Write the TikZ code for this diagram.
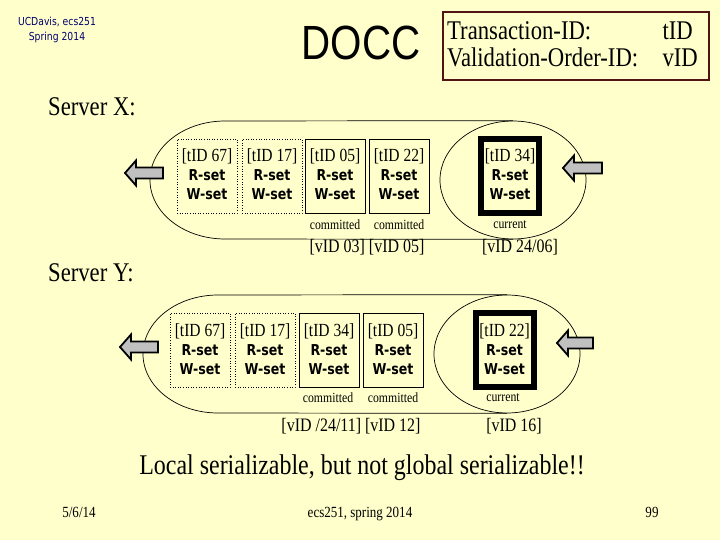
\documentclass[tikz,border=0pt]{standalone}
\usepackage{fontspec}
\setmainfont{Liberation Serif}
\newfontfamily\titlefont{Liberation Sans}
\newfontfamily\setfont{DejaVu Sans}
\usetikzlibrary{positioning,shapes.geometric}
\definecolor{slidebg}{RGB}{255,255,204}
\definecolor{framered}{RGB}{80,20,20}
\definecolor{navytext}{RGB}{0,0,110}
\definecolor{arrowgray}{RGB}{192,192,192}

\tikzset{
  txt/.style={inner sep=0pt, xscale=0.84, transform shape},
  tidtext/.style={txt, font=\fontsize{18.5}{20}\selectfont},
  settext/.style={txt, font=\setfont\bfseries\fontsize{15}{16}\selectfont},
  notetext/.style={txt, font=\fontsize{14}{16}\selectfont},
  vidtext/.style={txt, font=\fontsize{19}{20}\selectfont},
  headtext/.style={txt, font=\fontsize{27}{28}\selectfont},
  foottext/.style={txt, anchor=base, font=\fontsize{15.5}{16}\selectfont},
  tbox/.style={draw, minimum width=60pt, minimum height=74pt, inner sep=0pt},
  oldbox/.style={tbox, dotted, line width=0.6pt},
  donebox/.style={tbox, line width=0.8pt},
  curbox/.style={tbox, line width=6pt, minimum width=58pt},
  ring/.style={draw, ellipse, line width=0.7pt, minimum width=146pt, minimum height=118pt, inner sep=0pt},
  blockarrow/.style={draw, line width=1.8pt, fill=arrowgray, line join=miter},
}

\begin{document}
\begin{tikzpicture}[x=1pt,y=-1pt]
\fill[slidebg](0,0)rectangle(720,540);
\useasboundingbox(0,0)rectangle(720,540);

% header
\node[txt,text=navytext,font=\setfont\fontsize{11}{12}\selectfont] (ucd) at (57,22) {UCDavis, ecs251};
\node[txt,text=navytext,font=\setfont\fontsize{11}{12}\selectfont,below=4.5pt of ucd] (spring) {Spring 2014};
\node[txt,font=\titlefont\fontsize{48}{48}\selectfont] (docc) at (361,43) {DOCC};
\node[draw=framered,line width=1.5pt,minimum width=266pt,minimum height=68pt] (legend) at (576,46) {};
\node[headtext,anchor=base west] (tidkey) at (447,39.5) {Transaction-ID:};
\node[headtext,anchor=base east] (tidval) at (693,39.5) {tID};
\node[headtext,anchor=base west] (vidkey) at (447,66.5) {Validation-Order-ID:};
\node[headtext,anchor=base east] (vidval) at (698,66.5) {vID};

% server X
\node[headtext,anchor=base west] (srvx) at (48,116) {Server X:};
\node[ring] (curx) at (513,180) {};
\draw[line width=0.7pt](curx.north)--(225,121)arc[start angle=90,end angle=270,x radius=75pt,y radius=59pt]--(curx.south);
\foreach \i/\x/\kind/\tid in {1/207/oldbox/67,2/272/oldbox/17,3/335/donebox/05,4/399/donebox/22,5/510/curbox/34}{
  \node[\kind] (xb\i) at (\x,176) {};
  \node[tidtext] (xbid\i) at (\x,156) {[tID \tid]};
  \node[settext] (xbr\i) at (\x,175) {R-set};
  \node[settext] (xbw\i) at (\x,194) {W-set};
}
\node[notetext] (xc3) at (335,225) {committed};
\node[notetext] (xc4) at (399,225) {committed};
\node[notetext] (xc5) at (510,225) {current};
\node[vidtext] (xv1) at (367,247) {[vID 03] [vID 05]};
\node[vidtext] (xv2) at (520,247) {[vID 24/06]};

% server Y
\node[headtext,anchor=base west] (srvy) at (48,281) {Server Y:};
\node[ring] (cury) at (507,354) {};
\draw[line width=0.7pt](cury.north)--(218,295)arc[start angle=90,end angle=270,x radius=75pt,y radius=59pt]--(cury.south);
\foreach \i/\x/\kind/\tid in {1/200/oldbox/67,2/265/oldbox/17,3/329/donebox/34,4/393/donebox/05,5/504.5/curbox/22}{
  \node[\kind] (yb\i) at (\x,350) {};
  \node[tidtext] (ybid\i) at (\x,331) {[tID \tid]};
  \node[settext] (ybr\i) at (\x,350) {R-set};
  \node[settext] (ybw\i) at (\x,369) {W-set};
}
\node[notetext] (yc3) at (328,398) {committed};
\node[notetext] (yc4) at (393,398) {committed};
\node[notetext] (yc5) at (503,398) {current};
\node[vidtext] (yv1) at (351,426) {[vID /24/11] [vID 12]};
\node[vidtext] (yv2) at (514,426) {[vID 16]};

% block arrows in and out
\foreach \tx/\ty/\len in {125/173/38,563/168/39,120/347/38,557/343/36}
  \draw[blockarrow](\tx,\ty)--++(11,-12.5)--++(0,7)--++(\len-11,0)--++(0,11)--++(-\len+11,0)--++(0,7)--cycle;

% footer
\node[txt,font=\fontsize{28.5}{30}\selectfont] (remark) at (362,468) {Local serializable, but not global serializable!!};
\node[foottext] (date) at (79,517) {5/6/14};
\node[foottext] (course) at (360,517) {ecs251, spring 2014};
\node[foottext] (page) at (652,517) {99};
\end{tikzpicture}
\end{document}
